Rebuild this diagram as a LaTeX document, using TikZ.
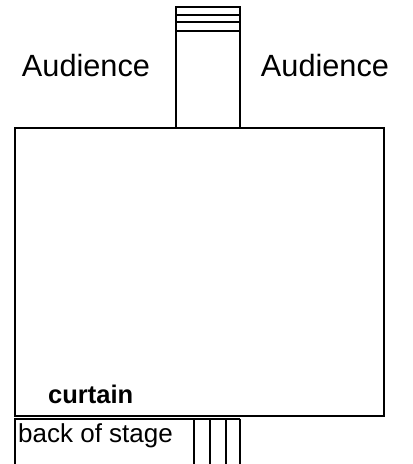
\documentclass[tikz,border=0pt]{standalone}
\usepackage{fontspec}
\setmainfont{Liberation Sans}
\usetikzlibrary{positioning}
\tikzset{wall/.style={line width=2.6pt},thin line/.style={line width=1.2pt},
  big label/.style={font=\fontsize{30.7}{34}\selectfont,anchor=base,inner sep=0pt},
  small label/.style={font=\fontsize{26}{30}\selectfont,anchor=base west,inner sep=0pt}}
\begin{document}
\begin{tikzpicture}[x=1pt,y=-1pt]
\useasboundingbox (0,0) rectangle (413,464);
% stage
\draw[wall] (15,128) rectangle (384,416);
% entrance at the top
\draw[thin line] (176,128)--(176,7)--(240,7)--(240,128);
\foreach \y in {15,22,31}{\draw[thin line] (176,\y)--(240,\y);}
\draw[line width=1.6pt] (176,7)--(240,7);
\node[big label] (audL) at (86,76) {Audience};
\node[big label] (audR) at (325,76) {Audience};
\node[small label,font=\fontsize{25.5}{30}\selectfont\bfseries] (curtain) at (48,403) {curtain};
% back of stage
\draw[thin line] (15,464)--(15,419)--(240,419);
\foreach \x in {194,210,226,240}{\draw[thin line] (\x,419)--(\x,464);}
\node[small label] (back) at (18,442) {back of stage};
\end{tikzpicture}
\end{document}
